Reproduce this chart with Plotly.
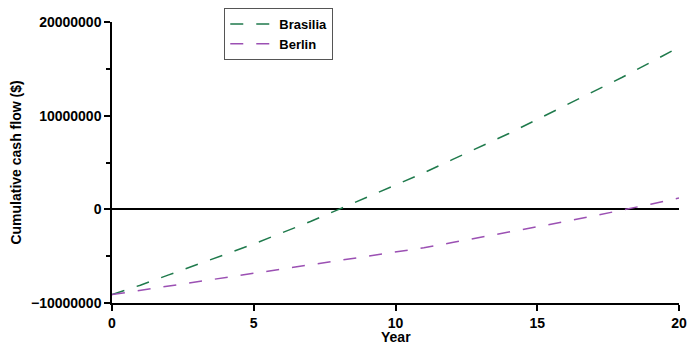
import plotly.graph_objects as go

years = list(range(0, 21))
brasilia = [-9.1, -8.1, -7.0, -5.9, -4.8, -3.7, -2.5, -1.3, 0.0, 1.3, 2.6,
            3.9, 5.3, 6.7, 8.1, 9.6, 11.1, 12.6, 14.1, 15.7, 17.3]
berlin = [-9.1, -8.65, -8.2, -7.75, -7.3, -6.85, -6.4, -5.95, -5.5, -5.05, -4.6,
          -4.1, -3.55, -3.0, -2.45, -1.88, -1.3, -0.7, -0.1, 0.55, 1.2]
brasilia = [v * 1e6 for v in brasilia]
berlin = [v * 1e6 for v in berlin]

FONT = "Liberation Sans, Arial, sans-serif"

fig = go.Figure()
fig.add_trace(go.Scatter(x=years, y=brasilia, mode="lines", name="Brasilia",
                         line=dict(color="#1f7a4c", width=1.5, dash="13px,13px")))
fig.add_trace(go.Scatter(x=years, y=berlin, mode="lines", name="Berlin",
                         line=dict(color="#9b50b3", width=1.5, dash="13px,13px")))

fig.update_layout(
    width=687, height=344,
    margin=dict(l=112, r=8, t=22, b=41),
    paper_bgcolor="white", plot_bgcolor="white",
    font=dict(family=FONT, size=14, color="black", weight="bold"),
    legend=dict(x=0.198, y=1.05, xanchor="left", yanchor="top",
                bordercolor="#555555", borderwidth=1, bgcolor="white",
                itemwidth=44,
                font=dict(size=13, weight="bold"), tracegroupgap=0),
    showlegend=True,
    annotations=[dict(text="Year", xref="paper", yref="paper", x=0.5, y=0,
                      yshift=-34, xanchor="center", yanchor="middle", showarrow=False,
                      borderpad=0, font=dict(size=14, weight="bold"))],
)
fig.update_xaxes(range=[0, 20], tickvals=[0, 5, 10, 15, 20], showgrid=False,
                 automargin=False,
                 showline=True, linecolor="black", linewidth=1.5,
                 ticks="outside", ticklen=6, tickwidth=1.5, tickcolor="black",
                 zeroline=False)
fig.update_yaxes(range=[-10e6, 20e6], tickvals=[-10e6, 0, 10e6, 20e6],
                 tickformat="d", showgrid=False, automargin=False,
                 showline=True, linecolor="black", linewidth=1.5,
                 ticks="outside", ticklen=6, tickwidth=1.5, tickcolor="black",
                 minor=dict(ticks="outside", tickvals=[-5e6, 5e6, 15e6], ticklen=4,
                            tickwidth=1.5, tickcolor="black"),
                 zeroline=True, zerolinecolor="black", zerolinewidth=1.5,
                 title=dict(text="Cumulative cash flow ($)", standoff=6,
                            font=dict(size=14, weight="bold")))

fig.write_html("out.html")
